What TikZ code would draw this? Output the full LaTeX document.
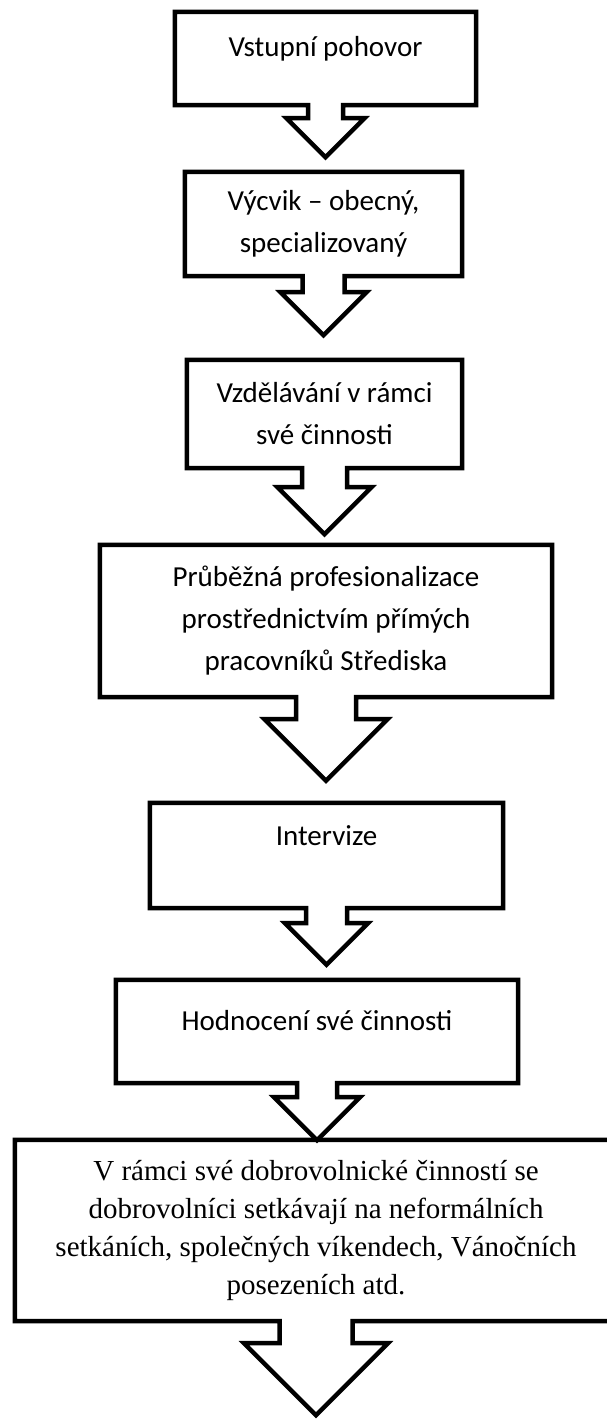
\documentclass[tikz,border=0pt]{standalone}
\usepackage{fontspec}
\setmainfont{Carlito}
\newfontfamily\timesfont{Liberation Serif}
\usetikzlibrary{calc}

% box with a down arrow: node, shaft half width, shaft length, head half width
\newcommand{\callout}[4]{%
  \draw[outline] (#1.north west) -- (#1.north east) -- (#1.south east)
    -- ($(#1.south)+(#2,0)$) -- ++(0,-#3) -- ++(#4-#2,0) -- ++(-#4,-#4)
    -- ++(-#4,#4) -- ++(#4-#2,0) -- ++(0,#3) -- (#1.south west) -- cycle;
}

\begin{document}
\begin{tikzpicture}[
    x=1pt, y=1pt,
    stepbox/.style={rectangle, inner sep=0pt, align=center, font=\fontsize{29}{42}\selectfont},
    uptext/.style={text height=21pt, text depth=#1},
    outline/.style={line width=4.5pt, line join=miter, draw=black}
  ]
    \useasboundingbox (0,0) rectangle (606,-1419);
    \fill[white] (0,0) rectangle (606,-1419);

    \node[stepbox, minimum width=301pt, minimum height=93pt, uptext=25pt] (entry) at (325.5,-58.5) {Vstupní pohovor};
    \node[stepbox, minimum width=277pt, minimum height=104pt] (training) at (323.5,-224) {Výcvik – obecný,\\specializovaný};
    \node[stepbox, minimum width=275pt, minimum height=108pt] (education) at (324.5,-414) {Vzdělávání v rámci\\své činnosti};
    \node[stepbox, minimum width=452pt, minimum height=152pt] (profess) at (326,-621) {Průběžná profesionalizace\\prostřednictvím přímých\\pracovníků Střediska};
    \node[stepbox, minimum width=353pt, minimum height=105pt, uptext=41pt] (intervision) at (326.5,-855.5) {Intervize};
    \node[stepbox, minimum width=402pt, minimum height=103pt, uptext=23pt] (evaluation) at (317,-1031.5) {Hodnocení své činnosti};
    \node[stepbox, font=\timesfont\fontsize{29}{38}\selectfont, minimum width=602pt, minimum height=181pt] (meetings) at (316,-1230.5) {V rámci své dobrovolnické činností se\\dobrovolníci setkávají na neformálních\\setkáních, společných víkendech, Vánočních\\posezeních atd.};

    \callout{entry}{17.5}{13}{39}
    \callout{training}{21}{16}{43}
    \callout{education}{22.5}{19}{47}
    \callout{profess}{30}{22}{61.5}
    \callout{intervision}{20.5}{15}{41.5}
    \callout{evaluation}{20}{14}{43}
    \callout{meetings}{36.5}{22}{72}
\end{tikzpicture}
\end{document}
